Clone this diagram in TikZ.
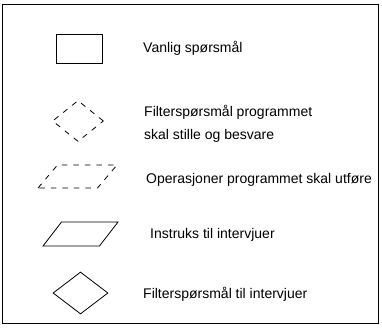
\documentclass[tikz,border=0pt]{standalone}
\usepackage{fontspec}
\setmainfont{Liberation Sans}
\usetikzlibrary{shapes.geometric}

\begin{document}
\begin{tikzpicture}[
    x=1pt, y=-1pt,
    symb/.style={draw, line width=0.8pt, inner sep=0pt},
    dashsymb/.style={symb, dash pattern=on 5.5pt off 6pt},
    para/.style={trapezium, trapezium stretches=true, inner sep=2pt,
                 trapezium left angle=64, trapezium right angle=116},
    label/.style={anchor=base west, inner sep=0pt, align=left,
                  font=\fontsize{14}{22}\selectfont},
]
\useasboundingbox (0,0) rectangle (382,334);

% Frame round the legend
\node[draw, line width=0.8pt, minimum width=376pt, minimum height=319pt] (frame) at (190,163.5) {};

% Symbols
\node[symb, rectangle, minimum width=46pt, minimum height=29pt] (plain) at (79,48.5) {};
\node[dashsymb, diamond, minimum width=51pt, minimum height=41pt] (filterprog) at (78,121) {};
\node[dashsymb, para, minimum width=79pt, minimum height=23pt] (operation) at (77.5,176.5) {};
\node[symb, para, minimum width=75pt, minimum height=24pt] (instruct) at (80.5,234) {};
\node[symb, diamond, minimum width=55pt, minimum height=42pt] (filterint) at (80.5,293) {};

% Texts
\node[label] (plaintext) at (143,53) {Vanlig spørsmål};
\node[label] (filterprogtext) at (144,139) {Filterspørsmål programmet\\skal stille og besvare};
\node[label] (operationtext) at (146,183) {Operasjoner programmet skal utføre};
\node[label] (instructtext) at (150,238) {Instruks til intervjuer};
\node[label] (filterinttext) at (143,298) {Filterspørsmål til intervjuer};
\end{tikzpicture}
\end{document}
